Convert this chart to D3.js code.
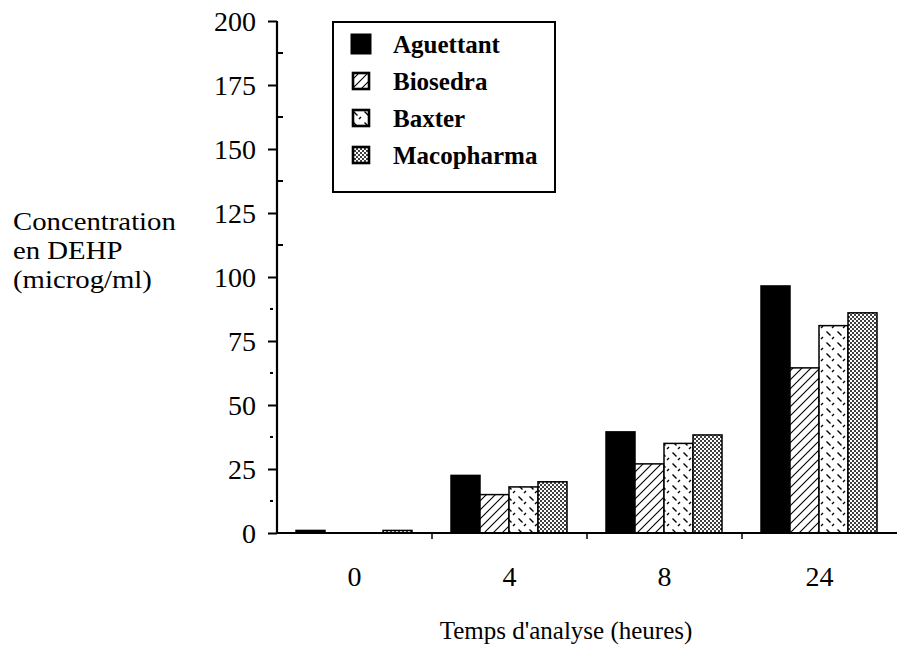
<!DOCTYPE html>
<html>
<head>
<meta charset="utf-8">
<script src="https://cdn.jsdelivr.net/npm/d3@7"></script>
<style>
  html, body { margin: 0; padding: 0; background: #fff; }
  svg { display: block; }
</style>
</head>
<body>
<svg id="chart" width="897" height="647"></svg>
<script>
// ---- data ----
const categories = ["0", "4", "8", "24"];
const seriesNames = ["Aguettant", "Biosedra", "Baxter", "Macopharma"];
const aguettant  = [1, 22.5, 39.5, 96.5];
const biosedra   = [0, 15, 27, 64.5];
const baxter     = [0, 18, 35, 81];
const macopharma = [1, 20, 38.3, 86];
const yTicks = [0, 25, 50, 75, 100, 125, 150, 175, 200];
const yLabelLines = ["Concentration", "en DEHP", "(microg/ml)"];
const xTitle = "Temps d'analyse (heures)";

const seriesValues = [aguettant, biosedra, baxter, macopharma];
const SERIF = "'Liberation Serif', 'Times New Roman', Times, serif";

const svg = d3.select("#chart");
const defs = svg.append("defs");

// patterns
const pDiag = defs.append("pattern").attr("id", "pDiag").attr("patternUnits", "userSpaceOnUse")
  .attr("width", 9).attr("height", 9);
pDiag.append("rect").attr("width", 9).attr("height", 9).attr("fill", "#fff");
pDiag.append("path").attr("d", "M0,9 L9,0 M-2,2 L2,-2 M7,11 L11,7").attr("stroke", "#000").attr("stroke-width", 1.1);

const pDash = defs.append("pattern").attr("id", "pDash").attr("patternUnits", "userSpaceOnUse")
  .attr("width", 11).attr("height", 11);
pDash.append("rect").attr("width", 11).attr("height", 11).attr("fill", "#fff");
pDash.append("path").attr("d", "M1.5,1.5 L5.5,5.5 M7,9 L9,7")
  .attr("stroke", "#000").attr("stroke-width", 1.4);

const pDot = defs.append("pattern").attr("id", "pDot").attr("patternUnits", "userSpaceOnUse")
  .attr("width", 4).attr("height", 4);
pDot.append("rect").attr("width", 4).attr("height", 4).attr("fill", "#fff");
pDot.append("circle").attr("cx", 1).attr("cy", 1).attr("r", 1.0).attr("fill", "#000");
pDot.append("circle").attr("cx", 3).attr("cy", 3).attr("r", 1.0).attr("fill", "#000");

const fills = ["#000", "url(#pDiag)", "url(#pDash)", "url(#pDot)"];

// scales
const x0 = d3.scaleBand().domain(categories).range([277, 897]).paddingInner(0).paddingOuter(0);
const x1 = d3.scaleBand().domain(seriesNames).range([19, x0.bandwidth() - 20]);
const y = d3.scaleLinear().domain([0, 200]).range([533, 21]);

// bars
const g = svg.append("g");
categories.forEach((c, ci) => {
  seriesNames.forEach((s, si) => {
    const v = seriesValues[si][ci];
    if (v <= 0) return;
    g.append("rect")
      .attr("x", x0(c) + x1(s))
      .attr("y", y(v))
      .attr("width", x1.bandwidth())
      .attr("height", y(0) - y(v))
      .attr("fill", fills[si])
      .attr("stroke", "#000")
      .attr("stroke-width", 1.5);
  });
});

// y axis
const yAxis = d3.axisLeft(y).tickValues(yTicks).tickSize(9).tickPadding(12);
const ya = svg.append("g").attr("transform", "translate(277,0)").call(yAxis);
ya.attr("font-family", null).attr("font-size", null);
ya.select(".domain").attr("stroke-width", 2.2).attr("d", "M0,21V533");
ya.selectAll(".tick line").attr("stroke-width", 2);
ya.selectAll(".tick text").style("font-family", SERIF).style("font-size", "28px").attr("dy", "0.34em");

// minor ticks
const minor = d3.range(12.5, 200, 25);
svg.append("g").selectAll("line").data(minor).join("line")
  .attr("x1", d => d > 100 ? 277 : 270)
  .attr("x2", d => d > 100 ? 283 : 273)
  .attr("y1", d => y(d)).attr("y2", d => y(d))
  .attr("stroke", "#000").attr("stroke-width", 2);

// x axis
const xAxis = d3.axisBottom(x0).tickSize(0).tickPadding(33);
const xa = svg.append("g").attr("transform", "translate(0,533)").call(xAxis);
xa.attr("font-family", null).attr("font-size", null);
xa.select(".domain").attr("stroke-width", 2).attr("d", "M277,0H897");
xa.selectAll(".tick text").style("font-family", SERIF).style("font-size", "28px");
// category separator ticks
svg.append("g").selectAll("line").data(categories.slice(1)).join("line")
  .attr("x1", d => x0(d)).attr("x2", d => x0(d))
  .attr("y1", 533).attr("y2", 539)
  .attr("stroke", "#000").attr("stroke-width", 1.5);

// y title (three lines, slightly widened glyphs)
yLabelLines.forEach((l, i) => {
  svg.append("g").attr("transform", `translate(13,${230 + i * 28.8}) scale(1.15,1)`)
    .append("text").attr("x", 0).attr("y", 0)
    .style("font-family", SERIF).style("font-size", "25px").text(l);
});

// x title
svg.append("text").attr("x", 566).attr("y", 639).attr("text-anchor", "middle")
  .style("font-family", SERIF).style("font-size", "25px").text(xTitle);

// legend
const lg = svg.append("g");
lg.append("rect").attr("x", 333).attr("y", 22).attr("width", 222).attr("height", 170)
  .attr("fill", "#fff").attr("stroke", "#000").attr("stroke-width", 2);
seriesNames.forEach((s, i) => {
  const cy = 44 + i * 37;
  const sz = i === 0 ? 20 : 16;
  lg.append("rect").attr("x", 361 - sz / 2).attr("y", cy - sz / 2)
    .attr("width", sz).attr("height", sz)
    .attr("fill", fills[i]).attr("stroke", "#000").attr("stroke-width", i === 0 ? 1 : 2.6);
  lg.append("text").attr("x", 393).attr("y", cy).attr("dy", "0.35em")
    .style("font-family", SERIF).style("font-size", "25px").style("font-weight", "bold").text(s);
});
</script>
</body>
</html>
